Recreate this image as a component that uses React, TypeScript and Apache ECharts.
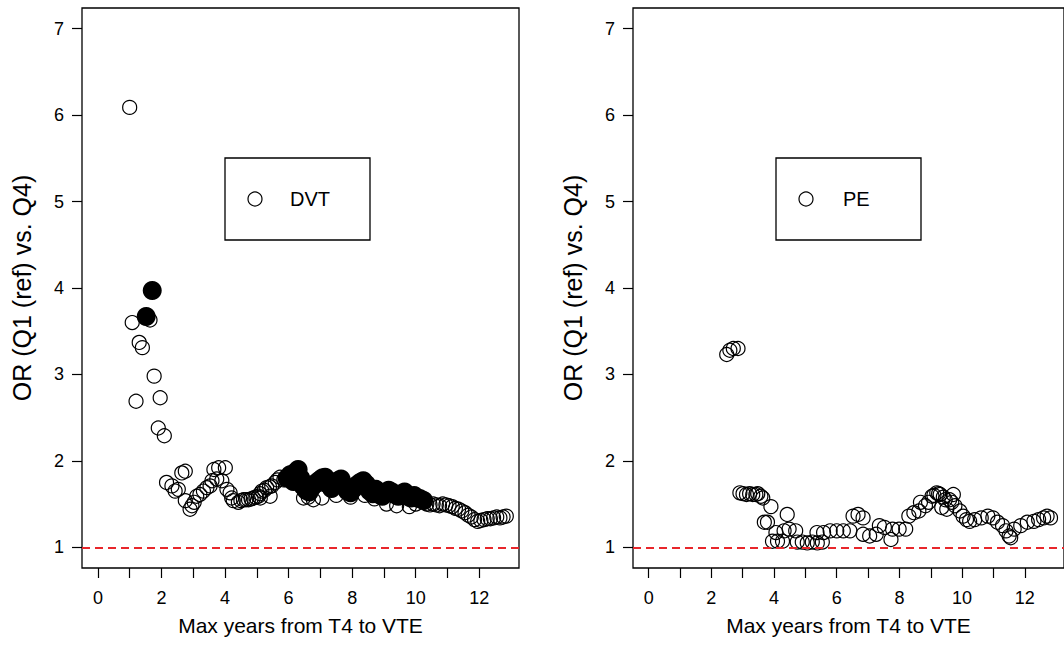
import React, { useEffect, useRef } from "react";
import * as echarts from "echarts";

// ---- tick values ----
const yTicks = [1, 2, 3, 4, 5, 6, 7];
const xTicks = [0, 1, 2, 3, 4, 5, 6, 7, 8, 9, 10, 11, 12];
const xTickLabels = [0, 2, 4, 6, 8, 10, 12];

// ---- DVT: open circles (non-significant) ----
const dvtOpenX = [
  1.0, 1.08, 1.2, 1.3, 1.4, 1.64, 1.77, 1.9, 1.96, 2.09,
  2.16, 2.33, 2.43, 2.53, 2.64, 2.75, 2.75, 2.9, 2.96, 3.03, 3.11, 3.21, 3.32, 3.43, 3.53, 3.59,
  3.65, 3.74, 3.8, 3.9, 4.01, 4.06, 4.16, 4.21, 4.26, 4.42, 4.5, 4.58, 4.66, 4.74, 4.82, 4.89,
  4.97, 5.05, 5.1, 5.11, 5.16, 5.24, 5.31, 5.4, 5.42, 5.47, 5.58, 5.65, 5.73, 5.85,
  6.47, 6.62, 6.78, 7.05, 7.5, 7.95, 8.4, 8.7, 9.08, 9.4, 9.8, 10.0,
  10.35, 10.45, 10.55, 10.65, 10.75, 10.85, 10.95, 11.05, 11.15, 11.25, 11.35, 11.45, 11.55,
  11.65, 11.75, 11.85, 11.95, 12.05, 12.15, 12.25, 12.35, 12.45, 12.55, 12.65, 12.75, 12.85,
];
const dvtOpenY = [
  6.09, 3.6, 2.69, 3.37, 3.31, 3.63, 2.98, 2.38, 2.73, 2.29,
  1.75, 1.71, 1.65, 1.67, 1.86, 1.88, 1.54, 1.44, 1.48, 1.52, 1.59, 1.61, 1.65, 1.69, 1.71, 1.77,
  1.9, 1.79, 1.92, 1.77, 1.92, 1.67, 1.63, 1.57, 1.54, 1.52, 1.54, 1.55, 1.55, 1.55, 1.56, 1.57,
  1.58, 1.59, 1.62, 1.57, 1.65, 1.66, 1.69, 1.7, 1.59, 1.71, 1.75, 1.78, 1.81, 1.78,
  1.57, 1.58, 1.55, 1.57, 1.6, 1.58, 1.6, 1.56, 1.5, 1.48, 1.47, 1.5,
  1.5, 1.49, 1.5, 1.49, 1.48, 1.5, 1.49, 1.48, 1.47, 1.45, 1.44, 1.42, 1.4,
  1.37, 1.35, 1.32, 1.3, 1.31, 1.32, 1.33, 1.33, 1.34, 1.35, 1.34, 1.35, 1.36,
];

// ---- DVT: filled circles (significant) ----
const dvtSigX = [
  1.52, 1.71,
  5.95, 6.05, 6.15, 6.22, 6.3, 6.38, 6.45, 6.55, 6.65, 6.75, 6.85, 6.95, 7.05, 7.15, 7.25,
  7.35, 7.45, 7.55, 7.65, 7.75, 7.85, 7.95, 8.05, 8.15, 8.25, 8.35, 8.45, 8.55, 8.65, 8.75,
  8.85, 8.95, 9.05, 9.15, 9.25, 9.35, 9.45, 9.55, 9.65, 9.75, 9.85, 9.95, 10.05, 10.15, 10.25,
];
const dvtSigY = [
  3.67, 3.97,
  1.8, 1.84, 1.76, 1.87, 1.9, 1.8, 1.71, 1.66, 1.64, 1.7, 1.74, 1.77, 1.8, 1.81, 1.73,
  1.68, 1.72, 1.77, 1.79, 1.71, 1.65, 1.63, 1.68, 1.72, 1.75, 1.77, 1.73, 1.65, 1.62, 1.67,
  1.61, 1.59, 1.62, 1.66, 1.64, 1.61, 1.59, 1.62, 1.64, 1.59, 1.57, 1.6, 1.57, 1.56, 1.54,
];

// ---- PE: open circles ----
const peX = [
  2.49, 2.59, 2.7, 2.85,
  2.91, 3.01, 3.12, 3.22, 3.32, 3.42, 3.48, 3.58, 3.64, 3.9,
  3.69, 3.79, 3.95, 4.11, 4.27, 4.06, 4.32, 4.48, 4.69, 4.42,
  4.74, 4.9, 5.06, 5.22, 5.38, 5.54,
  5.37, 5.58, 5.79, 6.0, 6.21, 6.42,
  6.52, 6.68, 6.84, 6.84, 7.05, 7.26,
  7.36, 7.52, 7.73, 7.78, 7.99, 8.2,
  8.3, 8.46, 8.62, 8.67, 8.83, 8.93, 9.04, 9.1, 9.19, 9.25, 9.3, 9.35, 9.4, 9.46, 9.51, 9.6,
  9.67, 9.72, 9.77, 9.93, 10.03, 10.14, 10.24,
  10.4, 10.61, 10.82, 10.98, 11.13, 11.29, 11.4, 11.5, 11.55,
  11.66, 11.87, 12.08, 12.29, 12.44, 12.6, 12.71, 12.82,
];
const peY = [
  3.23, 3.28, 3.3, 3.3,
  1.63, 1.62, 1.61, 1.62, 1.61, 1.61, 1.62, 1.59, 1.57, 1.47,
  1.29, 1.29, 1.07, 1.07, 1.07, 1.17, 1.19, 1.21, 1.19, 1.38,
  1.06, 1.06, 1.05, 1.06, 1.05, 1.06,
  1.17, 1.17, 1.19, 1.19, 1.19, 1.19,
  1.36, 1.38, 1.34, 1.15, 1.13, 1.15,
  1.25, 1.23, 1.09, 1.21, 1.21, 1.21,
  1.36, 1.4, 1.42, 1.52, 1.48, 1.52, 1.59, 1.6, 1.63, 1.62, 1.61, 1.46, 1.58, 1.55, 1.44, 1.55,
  1.52, 1.61, 1.48, 1.42, 1.36, 1.32, 1.3,
  1.32, 1.34, 1.36, 1.34, 1.29, 1.25, 1.19, 1.13, 1.11,
  1.21, 1.25, 1.29, 1.3, 1.32, 1.34, 1.36, 1.34,
];

const refLine = 1;
const FONT = "'Liberation Sans', Arial, Helvetica, sans-serif";

function pairs(xs: number[], ys: number[]) {
  return xs.map((x, i) => [x, ys[i]]);
}

function makeX(gridIndex: number) {
  return {
    type: "value",
    gridIndex,
    position: "bottom",
    min: -0.5,
    max: 13.25,
    axisLine: { show: false, onZero: false },
    splitLine: { show: false },
    axisTick: {
      show: true,
      inside: false,
      customValues: xTicks,
      length: 10,
      lineStyle: { color: "#000", width: 1.2 },
    },
    axisLabel: {
      customValues: xTickLabels,
      fontSize: 18,
      color: "#000",
      margin: 21,
      fontFamily: FONT,
    },
    name: "Max years from T4 to VTE",
    nameLocation: "middle",
    nameGap: 47,
    nameTextStyle: { fontSize: 21, color: "#000", fontFamily: FONT },
  };
}

function makeY(gridIndex: number) {
  return {
    type: "value",
    gridIndex,
    position: "left",
    min: 0.76,
    max: 7.24,
    axisLine: { show: false, onZero: false },
    splitLine: { show: false },
    axisTick: {
      show: true,
      inside: false,
      customValues: yTicks,
      length: 10,
      lineStyle: { color: "#000", width: 1.2 },
    },
    axisLabel: {
      customValues: yTicks,
      fontSize: 18,
      color: "#000",
      margin: 18,
      fontFamily: FONT,
    },
    name: "OR (Q1 (ref) vs. Q4)",
    nameLocation: "middle",
    nameGap: 48,
    nameTextStyle: { fontSize: 25, color: "#000", fontFamily: FONT },
  };
}

const openStyle = {
  color: "rgba(0,0,0,0)",
  borderColor: "#000",
  borderWidth: 1.2,
  opacity: 1,
};

const refMark = {
  silent: true,
  symbol: ["none", "none"],
  label: { show: false },
  lineStyle: { color: "#e8262b", type: [8, 5], width: 1.8 },
  data: [{ yAxis: refLine }],
};

function legendBox(x: number, label: string, textX: number) {
  return {
    type: "group",
    children: [
      {
        type: "rect",
        shape: { x, y: 158, width: 145, height: 82 },
        style: { fill: "none", stroke: "#000", lineWidth: 1.3 },
      },
      {
        type: "circle",
        shape: { cx: x + 30, cy: 199, r: 7 },
        style: { fill: "none", stroke: "#000", lineWidth: 1.2 },
      },
      {
        type: "text",
        x: textX,
        y: 199,
        style: {
          text: label,
          font: `20px ${FONT}`,
          fill: "#000",
          verticalAlign: "middle",
          align: "left",
        },
      },
    ],
  };
}

export default function App() {
  const ref = useRef<HTMLDivElement>(null);
  useEffect(() => {
    if (!ref.current) return;
    const chart = echarts.init(ref.current, null, { renderer: "svg" });
    chart.setOption({
      animation: false,
      backgroundColor: "#fff",
      textStyle: { fontFamily: FONT },
      grid: [
        { left: 82, top: 8, width: 437, height: 560, show: true, borderColor: "#000", borderWidth: 1.3, backgroundColor: "transparent" },
        { left: 633, top: 8, width: 437, height: 560, show: true, borderColor: "#000", borderWidth: 1.3, backgroundColor: "transparent" },
      ],
      xAxis: [makeX(0), makeX(1)],
      yAxis: [makeY(0), makeY(1)],
      graphic: [legendBox(225, "DVT", 290), legendBox(776, "PE", 843)],
      series: [
        {
          name: "DVT",
          type: "scatter",
          xAxisIndex: 0,
          yAxisIndex: 0,
          symbol: "circle",
          symbolSize: 14,
          itemStyle: openStyle,
          data: pairs(dvtOpenX, dvtOpenY),
          markLine: refMark,
          z: 2,
        },
        {
          name: "DVT (significant)",
          type: "scatter",
          xAxisIndex: 0,
          yAxisIndex: 0,
          symbol: "circle",
          symbolSize: 19,
          itemStyle: { color: "#000", opacity: 1 },
          data: pairs(dvtSigX, dvtSigY),
          z: 3,
        },
        {
          name: "PE",
          type: "scatter",
          xAxisIndex: 1,
          yAxisIndex: 1,
          symbol: "circle",
          symbolSize: 14,
          itemStyle: openStyle,
          data: pairs(peX, peY),
          markLine: refMark,
          z: 2,
        },
      ],
    });
    return () => chart.dispose();
  }, []);
  return (
    <div
      ref={ref}
      style={{ position: "absolute", left: 0, top: 0, width: 1064, height: 646 }}
    />
  );
}
